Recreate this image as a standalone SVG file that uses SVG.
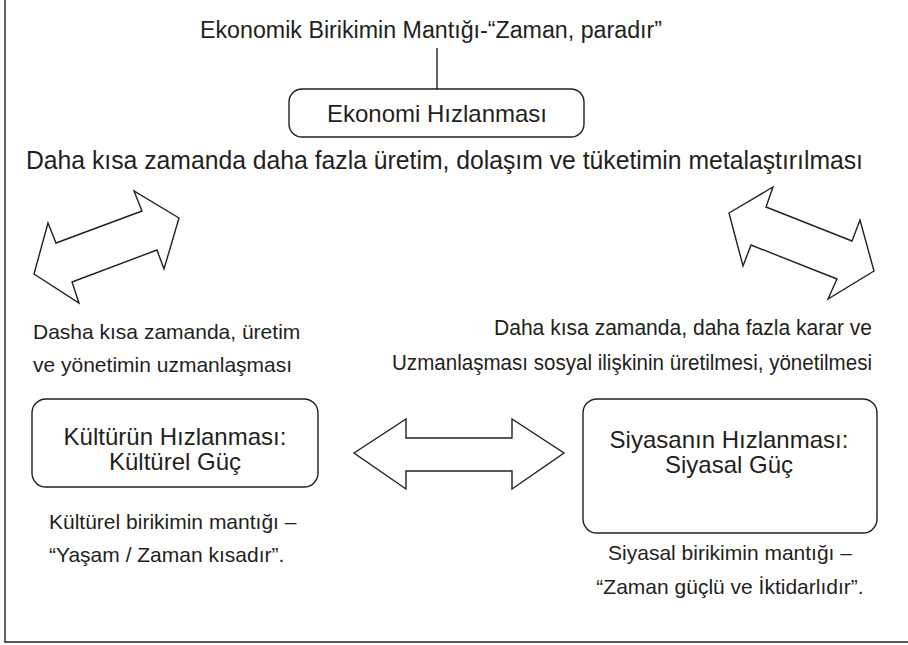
<svg xmlns="http://www.w3.org/2000/svg" width="908" height="645" viewBox="0 0 908 645">
<style>
  text { font-family: "Liberation Sans", Arial, sans-serif; fill: #231f20; }
  .shape { fill: #ffffff; stroke: #231f20; stroke-width: 1.4; stroke-linejoin: miter; }
  .box { fill: #ffffff; stroke: #231f20; stroke-width: 1.4; }
  .line { fill: none; stroke: #231f20; stroke-width: 1.4; }
  .title { font-size: 23.5px; }
  .big { font-size: 24px; }
  .wide { font-size: 25px; }
  .small { font-size: 21px; }
  .side { font-size: 21.5px; }
</style>
<rect x="0" y="0" width="908" height="645" fill="#ffffff"/>
<polyline class="line" points="5,0 5,642 908,642"/>

<g id="title">
  <text class="title" x="200" y="38" textLength="462" lengthAdjust="spacingAndGlyphs">Ekonomik Birikimin Mantığı-“Zaman, paradır”</text>
</g>

<g id="connectors">
  <line class="line" x1="437" y1="48" x2="437" y2="89"/>
  <polygon id="arrow-left" class="shape" points="179,218 134,191 142,211 56,243 48,223 34,274 79,303 72,282 157,250 164,269"/>
  <polygon id="arrow-right" class="shape" points="729,213 773,187 766,207 852,241 860,220 874,271 828,299 837,279 751,245 743,266"/>
  <polygon id="arrow-middle" class="shape" points="354,453 406,419 406,438 512,438 512,419 564,453 512,489 512,471 406,471 406,489"/>
</g>

<g id="node-ekonomi">
  <rect class="box" x="289" y="89" width="295" height="48" rx="13" ry="13"/>
  <text class="big" x="437" y="122" text-anchor="middle">Ekonomi Hızlanması</text>
</g>

<g id="label-ekonomi">
  <text class="wide" x="26" y="169" textLength="837" lengthAdjust="spacingAndGlyphs">Daha kısa zamanda daha fazla üretim, dolaşım ve tüketimin metalaştırılması</text>
</g>

<g id="label-left">
  <text class="small" x="33" y="339">Dasha kısa zamanda, üretim</text>
  <text class="small" x="33" y="372">ve yönetimin uzmanlaşması</text>
</g>

<g id="label-right">
  <text class="side" x="872" y="335" text-anchor="end" textLength="378" lengthAdjust="spacingAndGlyphs">Daha kısa zamanda, daha fazla karar ve</text>
  <text class="side" x="872" y="370" text-anchor="end" textLength="480" lengthAdjust="spacingAndGlyphs">Uzmanlaşması sosyal ilişkinin üretilmesi, yönetilmesi</text>
</g>

<g id="node-kultur">
  <rect class="box" x="32" y="399" width="286" height="88" rx="14" ry="14"/>
  <text class="big" x="175" y="445" text-anchor="middle">Kültürün Hızlanması:</text>
  <text class="big" x="175" y="470" text-anchor="middle">Kültürel Güç</text>
</g>

<g id="label-kultur">
  <text class="small" x="49" y="529">Kültürel birikimin mantığı –</text>
  <text class="small" x="49" y="562">“Yaşam / Zaman kısadır”.</text>
</g>

<g id="node-siyasa">
  <rect class="box" x="583" y="399" width="294" height="134" rx="14" ry="14"/>
  <text class="big" x="729" y="448" text-anchor="middle">Siyasanın Hızlanması:</text>
  <text class="big" x="729" y="473" text-anchor="middle">Siyasal Güç</text>
</g>

<g id="label-siyasa">
  <text class="small" x="730" y="560" text-anchor="middle">Siyasal birikimin mantığı –</text>
  <text class="small" x="730" y="594" text-anchor="middle">“Zaman güçlü ve İktidarlıdır”.</text>
</g>
</svg>
